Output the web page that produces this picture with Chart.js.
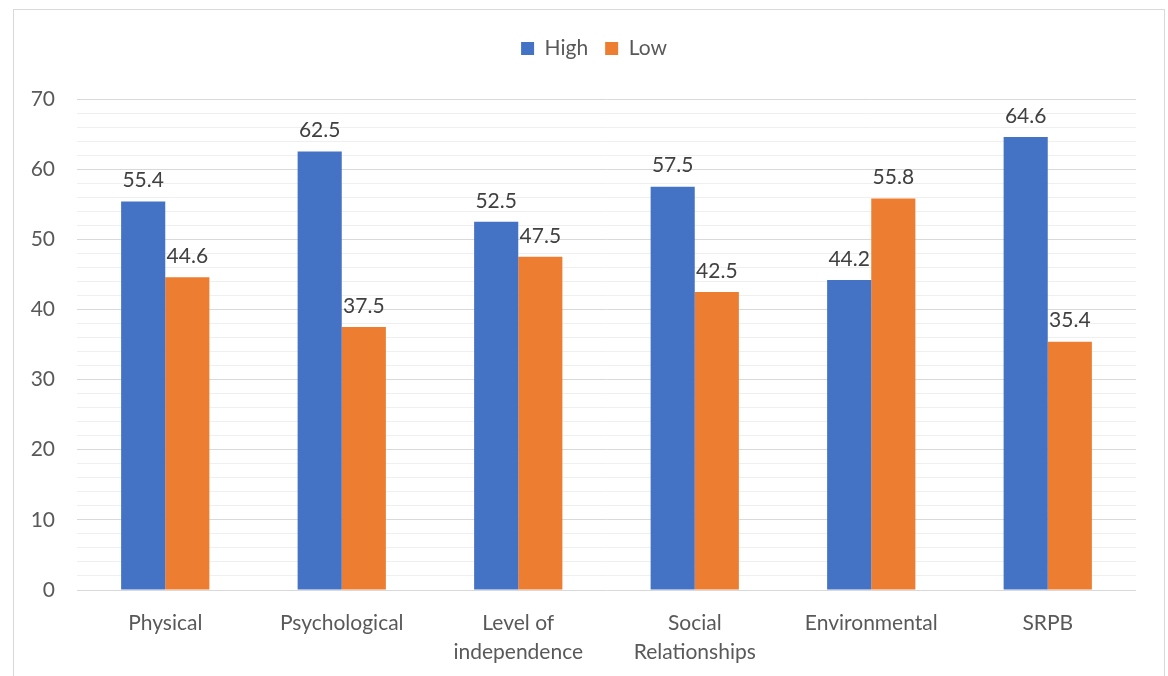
<!DOCTYPE html>
<html>
<head>
<meta charset="utf-8">
<script src="https://cdn.jsdelivr.net/npm/chart.js@4/dist/chart.umd.min.js"></script>
<style>
  body { margin: 0; background: #fff; }
  #frame { position: absolute; left: 13px; top: 9px; width: 1150px; height: 700px; border: 1px solid #d9d9d9; }
  #chart { position: absolute; left: 0; top: 0; }
</style>
</head>
<body>
<div id="frame"></div>
<canvas id="chart" width="1168" height="676"></canvas>
<script>
const categories = ['Physical', 'Psychological', ['Level of', 'independence'], ['Social', 'Relationships'], 'Environmental', 'SRPB'];
const highValues = [55.4, 62.5, 52.5, 57.5, 44.2, 64.6];
const lowValues = [44.6, 37.5, 47.5, 42.5, 55.8, 35.4];
const yTicks = [0, 10, 20, 30, 40, 50, 60, 70];

const FONT = 'Lato, "Noto Sans", sans-serif';

// labels above each bar, like the excel data labels
const barLabels = {
  id: 'barLabels',
  afterDatasetsDraw(chart) {
    const ctx = chart.ctx;
    ctx.save();
    ctx.font = '21px ' + FONT;
    ctx.fillStyle = '#404040';
    ctx.textAlign = 'center';
    ctx.textBaseline = 'middle';
    chart.data.datasets.forEach((ds, i) => {
      chart.getDatasetMeta(i).data.forEach((bar, j) => {
        ctx.fillText(ds.data[j].toFixed(1), bar.x, bar.y - 21);
      });
    });
    ctx.restore();
  }
};

// extra room under the legend, and centre it over the plot
const legendGap = {
  id: 'legendGap',
  beforeInit(chart) {
    const fit = chart.legend.fit;
    chart.legend.fit = function () {
      fit.bind(chart.legend)();
      this.height += 30;
    };
  },
  afterLayout(chart) {
    chart.legend.left += 26;
    chart.legend.right += 26;
  }
};

new Chart(document.getElementById('chart'), {
  type: 'bar',
  data: {
    labels: categories,
    datasets: [
      { label: 'High', data: highValues, backgroundColor: '#4472C4', categoryPercentage: 0.5, barPercentage: 1 },
      { label: 'Low', data: lowValues, backgroundColor: '#ED7D31', categoryPercentage: 0.5, barPercentage: 1 }
    ]
  },
  options: {
    responsive: false,
    animation: false,
    layout: { padding: { top: 21, right: 32, left: 0, bottom: 0 } },
    plugins: {
      legend: {
        position: 'top',
        labels: { boxWidth: 13, boxHeight: 13, padding: 17, color: '#595959', font: { family: FONT, size: 21 } }
      },
      tooltip: { enabled: false }
    },
    scales: {
      x: {
        grid: { display: false },
        border: { display: false },
        ticks: { color: '#595959', padding: 10, font: { family: FONT, size: 21, lineHeight: 1.42 }, maxRotation: 0, autoSkip: false },
        afterFit(s) { s.height = 86; }
      },
      y: {
        min: yTicks[0],
        max: yTicks[yTicks.length - 1],
        border: { display: false },
        grid: {
          drawTicks: false,
          color: c => (c.tick.value % 10 === 0 ? '#d9d9d9' : '#efefef'),
          lineWidth: 1
        },
        ticks: {
          stepSize: 2,
          autoSkip: false,
          padding: 22,
          color: '#595959',
          font: { family: FONT, size: 21 },
          callback: v => (yTicks.includes(v) ? v : '')
        },
        afterFit(s) { s.width = 77; }
      }
    }
  },
  plugins: [barLabels, legendGap]
});
</script>
</body>
</html>
